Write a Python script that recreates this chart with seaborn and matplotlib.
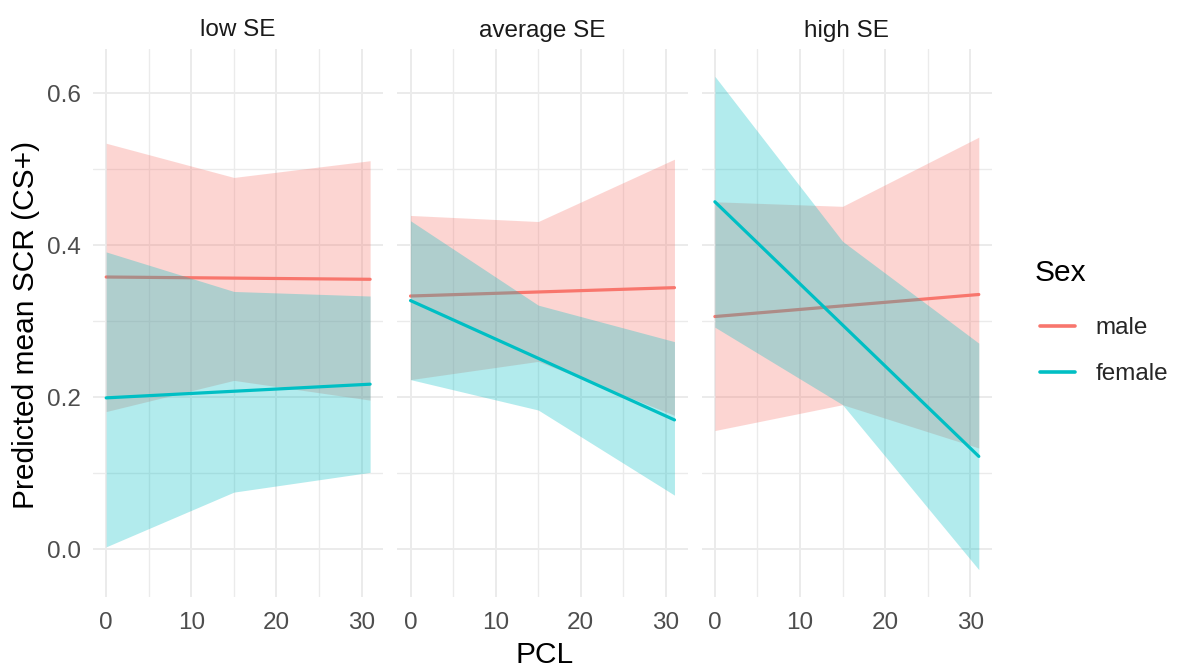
import numpy as np
import pandas as pd
import matplotlib.pyplot as plt
import seaborn as sns
from matplotlib.lines import Line2D

# facets and groups
panels = ["low SE", "average SE", "high SE"]
sexes = ["male", "female"]
colors = {"male": "#F8766D", "female": "#00BFC4"}

# PCL values where the fit line and the bands are given
pcl_line = [0, 31]
pcl_band = [0, 15, 31]

# predicted mean SCR, one row per panel (low, average, high SE)
male_fit = [[0.358, 0.355], [0.333, 0.344], [0.306, 0.335]]
male_lo = [[0.181, 0.222, 0.196], [0.223, 0.247, 0.176], [0.156, 0.190, 0.133]]
male_hi = [[0.534, 0.489, 0.511], [0.439, 0.431, 0.513], [0.457, 0.451, 0.542]]

female_fit = [[0.199, 0.217], [0.327, 0.170], [0.457, 0.122]]
female_lo = [[0.003, 0.075, 0.101], [0.223, 0.183, 0.071], [0.292, 0.190, -0.027]]
female_hi = [[0.391, 0.339, 0.333], [0.432, 0.321, 0.273], [0.622, 0.405, 0.271]]

yticks = [0.0, 0.2, 0.4, 0.6]
xticks = [0, 10, 20, 30]

# long tables
fit_rows = []
band_rows = []
for i, p in enumerate(panels):
    for s, fit, lo, hi in [("male", male_fit, male_lo, male_hi),
                           ("female", female_fit, female_lo, female_hi)]:
        for x, y in zip(pcl_line, fit[i]):
            fit_rows.append({"panel": p, "Sex": s, "PCL": x, "fit": y})
        for x, a, b in zip(pcl_band, lo[i], hi[i]):
            band_rows.append({"panel": p, "Sex": s, "PCL": x, "lo": a, "hi": b})
fits = pd.DataFrame(fit_rows)
bands = pd.DataFrame(band_rows)

sns.set_theme(style="whitegrid")
plt.rcParams["font.family"] = ["Liberation Sans", "DejaVu Sans"]

W, H = 1179, 670
fig, axes = plt.subplots(1, 3, figsize=(W / 100, H / 100), dpi=100, sharey=True)
fig.subplots_adjust(left=93 / W, right=992 / W, bottom=1 - 597 / H, top=1 - 49 / H,
                    wspace=14 / 290)

for ax, p in zip(axes, panels):
    z = 2
    for s in sexes:
        # ribbon then line per group, so the later ribbon tints the earlier line
        b = bands[(bands.panel == p) & (bands.Sex == s)]
        ax.fill_between(b.PCL, b.lo, b.hi, color=colors[s], alpha=0.3, lw=0, zorder=z)
        f = fits[(fits.panel == p) & (fits.Sex == s)]
        sns.lineplot(data=f, x="PCL", y="fit", color=colors[s], lw=2.3, ax=ax,
                     legend=False, zorder=z + 0.1)
        z += 0.2
    ax.set_xlim(-1.55, 32.55)
    ax.set_ylim(-0.063, 0.658)
    ax.set_xticks(xticks)
    ax.set_xticks([5, 15, 25], minor=True)
    ax.set_yticks(yticks)
    ax.set_yticks([0.1, 0.3, 0.5], minor=True)
    ax.set_yticklabels([f"{v:.1f}" for v in yticks])
    ax.grid(which="major", color="#EBEBEB", lw=1.4)
    ax.grid(which="minor", color="#EBEBEB", lw=1.0)
    ax.set_axisbelow(True)
    for sp in ax.spines.values():
        sp.set_visible(False)
    ax.tick_params(which="both", length=0, labelsize=17.5, labelcolor="#4D4D4D")
    ax.tick_params(axis="x", pad=11)
    ax.tick_params(axis="y", pad=9)
    ax.set_xlabel("")
    ax.set_ylabel("")
    ax.set_title(p, fontsize=17.5, color="#1A1A1A", pad=9)

fig.text(26 / W, 1 - 325 / H, "Predicted mean SCR (CS+)", rotation=90,
         ha="center", va="center", fontsize=21.5, color="black")
fig.text(545 / W, 7 / H, "PCL", ha="center", va="baseline", fontsize=21.5,
         color="black")

# legend: title placed on its own, entries below
fig.text(1035 / W, 1 - 273 / H, "Sex", ha="left", va="center", fontsize=21.5,
         color="black")
handles = [Line2D([0], [0], color=colors[s], lw=2.6) for s in sexes]
leg = fig.legend(handles, sexes, loc="upper left",
                 bbox_to_anchor=(1040 / W, 1 - 317 / H), frameon=False,
                 fontsize=17.5, handlelength=1.45, handletextpad=0.85,
                 labelspacing=1.0, borderpad=0, borderaxespad=0)

fig.savefig("out.png", dpi=100)
